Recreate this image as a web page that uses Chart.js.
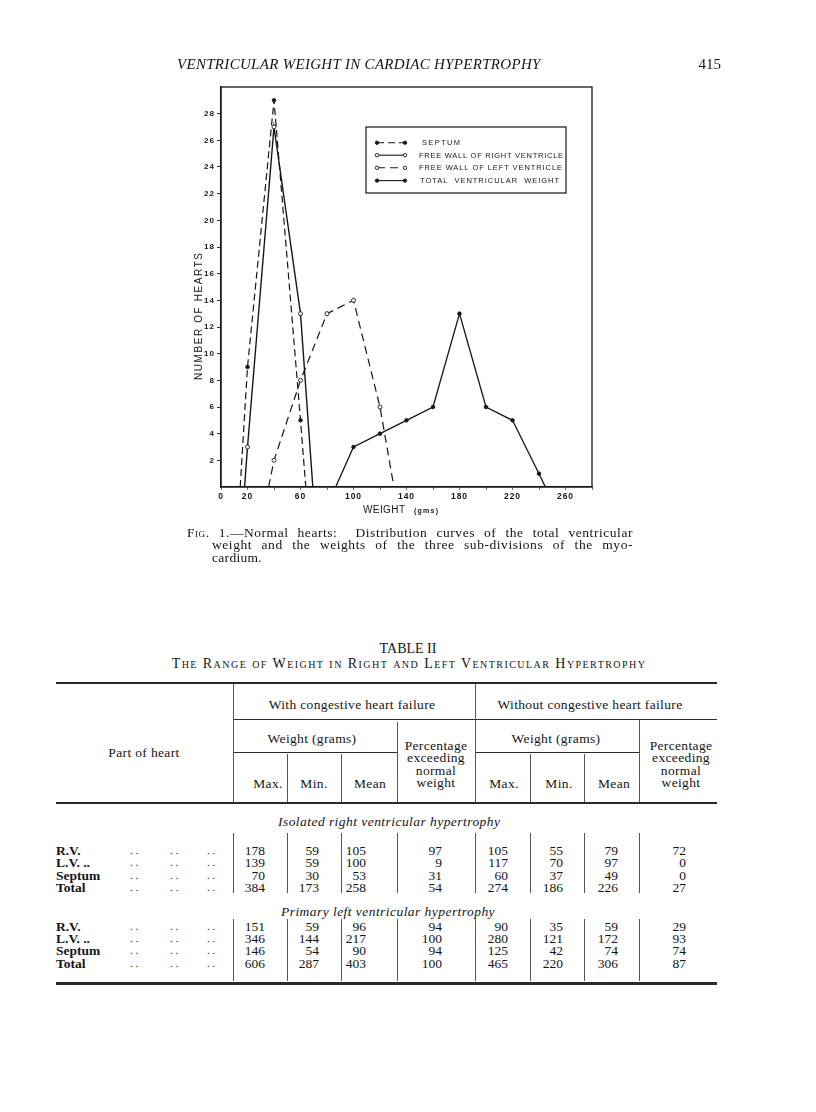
<!DOCTYPE html>
<html><head><meta charset="utf-8">
<script src="https://cdn.jsdelivr.net/npm/chart.js@4/dist/chart.umd.min.js"></script>
<style>
html,body{margin:0;padding:0;background:#fff;}
body{width:816px;height:1112px;position:relative;overflow:hidden;font-family:"Liberation Serif","Times New Roman",serif;color:#141414;}
.t{position:absolute;white-space:nowrap;line-height:14px;height:14px;}
.c{transform:translateX(-50%);}
.hl{position:absolute;background:#2a2a2a;}
.vl{position:absolute;background:#555;width:1px;}
#chartBox{position:absolute;left:150px;top:60px;width:480px;height:480px;}
.sc{font-variant:small-caps;}
</style></head><body>
<div id="chartBox"><canvas id="c" width="480" height="480"></canvas></div>
<div id="page"></div>
<script>
// ---------- chart data ----------
const septumX = [14.5, 20, 40, 60, 64];
const septumY = [0, 9, 29, 5, 0];
const rightWallX = [17.8, 20, 40, 60, 69.3];
const rightWallY = [0, 3, 27, 13, 0];
const leftWallX = [35.9, 40, 60, 80, 100, 120, 130.5];
const leftWallY = [0, 2, 8, 13, 14, 6, 0];
const totalX = [86.5, 100, 120, 140, 160, 180, 200, 220, 240, 244.8];
const totalY = [0, 3, 4, 5, 6, 13, 6, 5, 1, 0];
const xTickLabels = [0, 20, 60, 100, 140, 180, 220, 260];
const yTickLabels = [2, 4, 6, 8, 10, 12, 14, 16, 18, 20, 22, 24, 26, 28];
const seriesNames = ['SEPTUM', 'FREE WALL OF RIGHT VENTRICLE', 'FREE WALL OF LEFT VENTRICLE', 'TOTAL  VENTRICULAR  WEIGHT'];

// ---------- table data ----------
const rowLabels = ['R.V.', 'L.V. ..', 'Septum', 'Total'];
const isoWithMax = [178, 139, 70, 384];
const isoWithMin = [59, 59, 30, 173];
const isoWithMean = [105, 100, 53, 258];
const isoWithPct = [97, 9, 31, 54];
const isoWithoutMax = [105, 117, 60, 274];
const isoWithoutMin = [55, 70, 37, 186];
const isoWithoutMean = [79, 97, 49, 226];
const isoWithoutPct = [72, 0, 0, 27];
const primWithMax = [151, 346, 146, 606];
const primWithMin = [59, 144, 54, 287];
const primWithMean = [96, 217, 90, 403];
const primWithPct = [94, 100, 94, 100];
const primWithoutMax = [90, 280, 125, 465];
const primWithoutMin = [35, 121, 42, 220];
const primWithoutMean = [59, 172, 74, 306];
const primWithoutPct = [29, 93, 74, 87];

const INK = '#161616';
const pts = (xs, ys) => xs.map((x, i) => ({x, y: ys[i]}));
const rad = r => c => (c.raw && c.raw.y === 0) ? 0 : r;

function spaced(ctx, text, x, y, w, font) {
  ctx.font = font;
  ctx.letterSpacing = '0px';
  const w0 = ctx.measureText(text).width;
  const sp = (w - w0) / Math.max(1, text.length - 1);
  ctx.letterSpacing = sp.toFixed(2) + 'px';
  ctx.fillText(text, x, y);
  ctx.letterSpacing = '0px';
}

const decor = {
  id: 'decor',
  beforeDraw(chart) { chart.ctx.letterSpacing = '1px'; },
  afterDraw(chart) {
    const ctx = chart.ctx, a = chart.chartArea;
    const ox = 150, oy = 60;
    ctx.save();
    ctx.letterSpacing = '0px';
    ctx.strokeStyle = INK; ctx.lineWidth = 1.3;
    ctx.strokeRect(a.left, a.top, a.right - a.left, a.bottom - a.top);
    ctx.fillStyle = INK;
    ctx.textBaseline = 'middle'; ctx.textAlign = 'left';
    // y title
    ctx.save();
    ctx.translate(199.5 - ox, 316.5 - oy);
    ctx.rotate(-Math.PI / 2);
    spaced(ctx, 'NUMBER OF HEARTS', -63.5, 0, 127, '10px "Liberation Sans", Arial, sans-serif');
    ctx.restore();
    // x title
    spaced(ctx, 'WEIGHT', 363 - ox, 510 - oy, 42, '10px "Liberation Sans", Arial, sans-serif');
    spaced(ctx, '(gms)', 414 - ox, 511 - oy, 24, 'bold 7px "Liberation Sans", Arial, sans-serif');
    // legend box
    ctx.lineWidth = 1.2;
    ctx.strokeRect(366 - ox, 127 - oy, 200, 66);
    const rows = [142.7, 155.2, 167.8, 180.6];
    const textX = [422, 419, 419, 420];
    const textW = [38, 144, 143, 139];
    const ds = chart.data.datasets;
    rows.forEach((ry, i) => {
      const y = ry - oy, x0 = 377 - ox, x1 = 405 - ox;
      const d = ds[i];
      ctx.save();
      ctx.lineWidth = 1.1; ctx.strokeStyle = INK;
      ctx.setLineDash(d.borderDash || []);
      ctx.beginPath(); ctx.moveTo(x0, y); ctx.lineTo(x1, y); ctx.stroke();
      ctx.setLineDash([]);
      [x0, x1].forEach(px => {
        ctx.beginPath(); ctx.arc(px, y, 1.7, 0, Math.PI * 2);
        ctx.fillStyle = d.pointBackgroundColor; ctx.fill();
        ctx.lineWidth = 0.9; ctx.stroke();
      });
      ctx.restore();
      ctx.fillStyle = INK;
      spaced(ctx, seriesNames[i], textX[i] - ox, y + 0.5, textW[i], '7.5px "Liberation Sans", Arial, sans-serif');
    });
    ctx.restore();
  }
};

const common = {borderColor: INK, pointBorderColor: INK, pointBorderWidth: 0.9, tension: 0, fill: false};
new Chart(document.getElementById('c'), {
  type: 'line',
  data: {datasets: [
    Object.assign({label: seriesNames[0], data: pts(septumX, septumY), borderDash: [7, 4], borderWidth: 1.2,
      pointRadius: rad(1.8), pointBackgroundColor: INK}, common),
    Object.assign({label: seriesNames[1], data: pts(rightWallX, rightWallY), borderWidth: 1.4,
      pointRadius: rad(2), pointBackgroundColor: '#fff'}, common),
    Object.assign({label: seriesNames[2], data: pts(leftWallX, leftWallY), borderDash: [8, 5], borderWidth: 1.2,
      pointRadius: rad(2), pointBackgroundColor: '#fff'}, common),
    Object.assign({label: seriesNames[3], data: pts(totalX, totalY), borderWidth: 1.3,
      pointRadius: rad(1.8), pointBackgroundColor: INK}, common)
  ]},
  options: {
    responsive: false, animation: false, events: [],
    layout: {padding: {left: 40, top: 27, right: 38, bottom: 13}},
    plugins: {legend: {display: false}, tooltip: {enabled: false}},
    scales: {
      x: {type: 'linear', min: 0, max: 280,
        afterFit: s => { s.height = 40; },
        afterBuildTicks: s => { s.ticks = []; for (let v = 0; v <= 280; v += 20) s.ticks.push({value: v}); },
        ticks: {autoSkip: false, maxRotation: 0, padding: 2, color: INK,
          font: {family: '"Liberation Sans", Arial, sans-serif', size: 8.5, weight: 'bold'},
          callback: v => xTickLabels.includes(v) ? String(v) : ''},
        grid: {drawOnChartArea: false, tickLength: 3, color: '#444', lineWidth: 0.8},
        border: {color: INK, width: 1.3}},
      y: {min: 0, max: 30,
        afterFit: s => { s.width = 31; },
        afterBuildTicks: s => { s.ticks = yTickLabels.map(v => ({value: v})); },
        ticks: {autoSkip: false, padding: 2, color: INK,
          font: {family: '"Liberation Sans", Arial, sans-serif', size: 8, weight: 'bold'},
          callback: v => String(v)},
        grid: {drawOnChartArea: false, tickLength: 4, color: '#333', lineWidth: 1},
        border: {color: INK, width: 1.3}}
    }
  },
  plugins: [decor]
});

// ---------- page text & table ----------
const page = document.getElementById('page');
function T(text, x, y, opts = {}) {
  const d = document.createElement('div');
  d.className = 't' + (opts.center ? ' c' : '') + (opts.cls ? ' ' + opts.cls : '');
  d.innerHTML = text;
  d.style.top = (y - 7) + 'px';
  if (opts.right !== undefined) { d.style.left = (opts.right - 80) + 'px'; d.style.width = '80px'; d.style.textAlign = 'right'; }
  else d.style.left = x + 'px';
  d.style.fontSize = (opts.size || 13.5) + 'px';
  if (opts.style) d.style.cssText += opts.style;
  page.appendChild(d);
  return d;
}
function H(x1, x2, y, h) { const d = document.createElement('div'); d.className = 'hl'; d.style.cssText = `left:${x1}px;width:${x2 - x1}px;top:${y}px;height:${h}px`; page.appendChild(d); }
function V(x, y1, y2) { const d = document.createElement('div'); d.className = 'vl'; d.style.cssText = `left:${x}px;top:${y1}px;height:${y2 - y1}px`; page.appendChild(d); }

T('VENTRICULAR WEIGHT IN CARDIAC HYPERTROPHY', 177, 64, {size: 15, style: 'font-style:italic;letter-spacing:0.3px;'});
T('415', 0, 64, {right: 721, size: 15});

T('<span class="sc">Fig.</span> 1.—Normal hearts:&nbsp; Distribution curves of the total ventricular', 187, 532.5, {size: 13.5, style: 'width:446px;letter-spacing:0.55px;text-align:justify;text-align-last:justify;'});
T('weight and the weights of the three sub-divisions of the myo-', 212, 545, {size: 13.5, style: 'width:421px;letter-spacing:0.55px;text-align:justify;text-align-last:justify;'});
T('cardium.', 212, 557.5, {size: 13.5, style: 'letter-spacing:0.3px;'});

T('TABLE II', 408, 648.5, {center: true, size: 14});
T('The Range of Weight in Right and Left Ventricular Hypertrophy', 409, 664, {center: true, size: 14, cls: 'sc', style: 'letter-spacing:1.45px;'});

H(56, 717, 682, 2.2);
H(233, 717, 718.5, 1);
H(233, 397, 751.5, 1); H(475, 639, 751.5, 1);
H(56, 717, 802, 1.6);
H(56, 717, 982, 2.6);
V(233, 684, 802); V(475, 684, 802); V(397, 722, 802); V(639, 720, 802);
[287, 341, 530, 584].forEach(x => V(x, 754, 802));

const hdr = 'letter-spacing:0.35px;';
T('With congestive heart failure', 352, 705, {center: true, style: hdr});
T('Without congestive heart failure', 590, 705, {center: true, style: hdr});
T('Weight (grams)', 312, 738.5, {center: true, style: hdr});
T('Weight (grams)', 556, 738.5, {center: true, style: hdr});
['Percentage', 'exceeding', 'normal', 'weight'].forEach((w, i) => {
  T(w, 436, 746 + i * 12.4, {center: true, style: hdr});
  T(w, 681, 746 + i * 12.4, {center: true, style: hdr});
});
T('Part of heart', 144, 753, {center: true, style: hdr});
[['Max.', 268], ['Min.', 314], ['Mean', 370], ['Max.', 504], ['Min.', 559], ['Mean', 614]].forEach(([w, x]) => T(w, x, 784, {center: true, style: hdr}));

T('Isolated right ventricular hypertrophy', 278, 821.5, {style: 'font-style:italic;letter-spacing:0.45px;'});
T('Primary left ventricular hypertrophy', 281, 911.5, {style: 'font-style:italic;letter-spacing:0.45px;'});

const colRights = [265, 319, 366, 442, 508, 563, 618, 686];
const blocks = [
  {y0: 851, cols: [isoWithMax, isoWithMin, isoWithMean, isoWithPct, isoWithoutMax, isoWithoutMin, isoWithoutMean, isoWithoutPct], v: [833, 893]},
  {y0: 926.5, cols: [primWithMax, primWithMin, primWithMean, primWithPct, primWithoutMax, primWithoutMin, primWithoutMean, primWithoutPct], v: [919, 981]}
];
blocks.forEach(b => {
  rowLabels.forEach((lab, r) => {
    const y = b.y0 + r * 12.35;
    T(lab, 56, y, {style: 'font-weight:bold;'});
    [130, 170, 207].forEach(x => T('. .', x, y - 1, {size: 11}));
    b.cols.forEach((arr, ci) => T(String(arr[r]), 0, y, {right: colRights[ci]}));
  });
  [233, 287, 341, 397, 475, 530, 584, 639].forEach(x => V(x, b.v[0], b.v[1]));
});
</script>
</body></html>
